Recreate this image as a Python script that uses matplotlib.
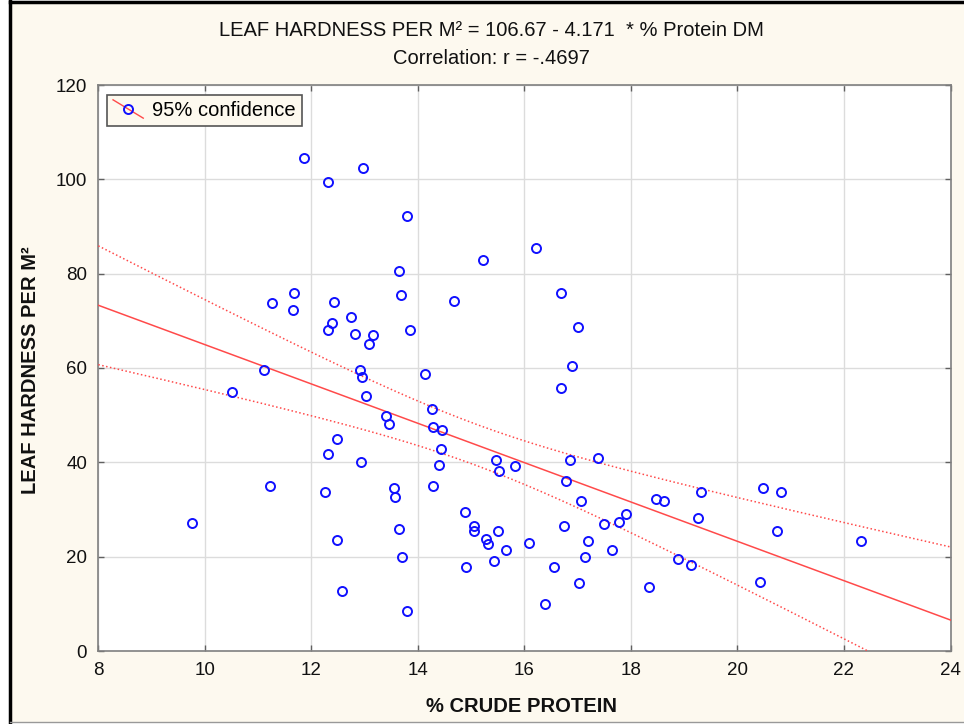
import numpy as np
import matplotlib
matplotlib.use("Agg")
import matplotlib.pyplot as plt
from matplotlib.lines import Line2D
from matplotlib.legend_handler import HandlerBase
from matplotlib.patches import Rectangle

plt.rcParams['font.family'] = ['Liberation Sans', 'DejaVu Sans']

# ---- data ----
protein = [11.87, 12.31, 12.97, 13.79, 13.64, 13.68, 11.27, 11.68, 11.66, 12.43,
           12.38, 12.31, 12.75, 12.82, 13.15, 13.08, 13.86, 11.11, 12.92, 10.51,
           12.95, 13.02, 13.41, 13.46, 12.49, 12.31, 12.93, 11.23, 12.25, 13.56,
           13.57, 9.75, 12.48, 13.64, 13.71, 12.58, 13.80, 16.22, 15.22, 16.68,
           14.67, 17.01, 16.90, 16.68, 14.14, 14.26, 14.29, 14.46, 14.43, 14.39,
           14.29, 14.88, 15.05, 15.05, 15.27, 15.32, 15.50, 14.91, 15.42, 15.65,
           15.47, 15.52, 15.83, 16.09, 16.38, 16.55, 16.75, 17.02, 16.79, 16.86,
           17.07, 17.14, 17.20, 17.39, 17.50, 17.65, 17.77, 17.90, 18.33, 18.48,
           18.62, 18.89, 19.13, 19.25, 19.31, 20.42, 20.48, 20.81, 20.75, 22.32]
hardness = [104.6, 99.5, 102.3, 92.3, 80.5, 75.4, 73.7, 76.0, 72.3, 74.0,
            69.6, 68.1, 70.9, 67.2, 66.9, 65.0, 68.1, 59.6, 59.6, 55.0,
            58.0, 54.1, 49.9, 48.2, 45.0, 41.7, 40.0, 34.9, 33.7, 34.6,
            32.7, 27.2, 23.6, 25.9, 20.0, 12.8, 8.5, 85.4, 82.8, 76.0,
            74.1, 68.7, 60.5, 55.8, 58.7, 51.3, 47.4, 46.8, 42.8, 39.5,
            35.0, 29.5, 26.5, 25.5, 23.8, 22.7, 25.5, 17.8, 19.1, 21.4,
            40.5, 38.2, 39.2, 22.8, 10.0, 17.8, 26.4, 14.5, 36.0, 40.6,
            31.8, 20.0, 23.3, 40.9, 26.9, 21.4, 27.3, 29.1, 13.6, 32.3,
            31.8, 19.6, 18.2, 28.1, 33.7, 14.6, 34.6, 33.7, 25.5, 23.3]
intercept = 106.67
slope = -4.171
t_crit = 1.987
x_ticks = [8, 10, 12, 14, 16, 18, 20, 22, 24]
y_ticks = [0, 20, 40, 60, 80, 100, 120]

title1 = "LEAF HARDNESS PER M² = 106.67 - 4.171  * % Protein DM"
title2 = "Correlation: r = -.4697"
xlabel = "% CRUDE PROTEIN"
ylabel = "LEAF HARDNESS PER M²"
legend_label = "95% confidence"

# ---- figure ----
W, H = 964, 724
fig = plt.figure(figsize=(W / 100, H / 100), dpi=100, facecolor='white')
cream = '#FDF9EF'
fig.patches.append(Rectangle((10 / W, 2 / H), (W - 10) / W, (H - 4) / H,
                             transform=fig.transFigure, facecolor=cream,
                             edgecolor='none', zorder=-10))
fig.add_artist(Line2D([10 / W, 10 / W], [2 / H, 1 - 1 / H], transform=fig.transFigure, color='black', lw=2.5))
fig.add_artist(Line2D([10 / W, 1], [1 - 1.5 / H, 1 - 1.5 / H], transform=fig.transFigure, color='black', lw=2.5))
fig.add_artist(Line2D([10 / W, 1], [2 / H, 2 / H], transform=fig.transFigure, color='#999999', lw=1))

ax_l, ax_r = 98.3, 950.5
ax_t, ax_b = 85.0, 651.0
ax = fig.add_axes([ax_l / W, 1 - ax_b / H, (ax_r - ax_l) / W, (ax_b - ax_t) / H])
ax.set_facecolor('white')
ax.set_xlim(8, 24)
ax.set_ylim(0, 120)
ax.set_xticks(x_ticks)
ax.set_yticks(y_ticks)
ax.grid(True, color='#dcdcdc', lw=1)
ax.set_axisbelow(True)
for s in ax.spines.values():
    s.set_color('#808080')
    s.set_linewidth(1.2)
ax.tick_params(direction='in', length=4, width=1, color='#606060',
               top=True, right=True, labelsize=13.5, pad=8, labelcolor='#111111')

x = np.array(protein)
y = np.array(hardness)
n = len(x)
xx = np.linspace(8, 24, 200)
yfit = intercept + slope * xx
resid = y - (intercept + slope * x)
s = np.sqrt(np.sum(resid ** 2) / (n - 2))
sxx = np.sum((x - x.mean()) ** 2)
hw = t_crit * s * np.sqrt(1.0 / n + (xx - x.mean()) ** 2 / sxx)

red = '#FF4A4A'
ax.plot(xx, yfit, color=red, lw=1.1, zorder=3)
ax.plot(xx, yfit + hw, color=red, lw=1.1, ls=(0, (1, 1.6)), zorder=3)
ax.plot(xx, yfit - hw, color=red, lw=1.1, ls=(0, (1, 1.6)), zorder=3)
sc, = ax.plot(x, y, ls='none', marker='o', ms=6.5, mfc='none', mec='#1010FF',
              mew=1.4, zorder=4, clip_on=False)


class DiagHandler(HandlerBase):
    def create_artists(self, legend, orig_handle, xdescent, ydescent, width,
                       height, fontsize, trans):
        x0, y0 = -xdescent, -ydescent
        ln = Line2D([x0, x0 + width], [y0 + height * 1.15, y0 - height * 0.15],
                    color=red, lw=1.0)
        mk = Line2D([x0 + width / 2], [y0 + height / 2], ls='none', marker='o',
                    ms=6.5, mfc='none', mec='#1010FF', mew=1.4)
        ln.set_transform(trans)
        mk.set_transform(trans)
        return [ln, mk]


leg = ax.legend([sc], [legend_label], handler_map={sc: DiagHandler()},
                loc='upper left', bbox_to_anchor=((107 - ax_l) / (ax_r - ax_l), (ax_b - 95) / (ax_b - ax_t)),
                borderaxespad=0, fontsize=14.5, frameon=True, fancybox=False,
                framealpha=1, facecolor=cream, edgecolor='#555555',
                handlelength=1.5, handletextpad=0.45, borderpad=0.3)
leg.get_frame().set_linewidth(1.2)

fig.text(491 / W, 1 - 31 / H, title1, ha='center', va='center', fontsize=14.5, color='#111111')
fig.text(491 / W, 1 - 59 / H, title2, ha='center', va='center', fontsize=14.5, color='#111111')
fig.text(521 / W, 1 - 707 / H, xlabel, ha='center', va='center', fontsize=14.5,
         fontweight='bold', color='#111111')
fig.text(31 / W, 1 - 370 / H, ylabel, ha='center', va='center', fontsize=14.5,
         fontweight='bold', rotation=90, color='#111111')

fig.savefig('out.png', dpi=100, facecolor='white')
